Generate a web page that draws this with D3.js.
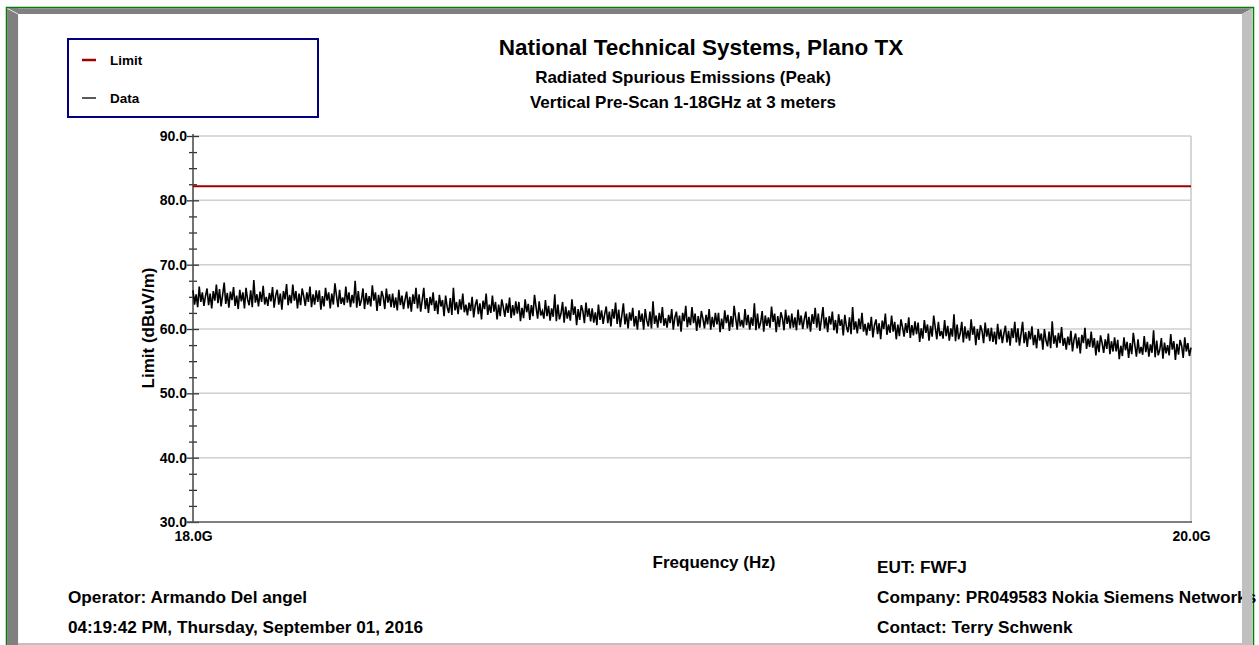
<!DOCTYPE html>
<html lang="en">
<head>
<meta charset="UTF-8">
<title>Radiated Spurious Emissions</title>
<script src="https://cdn.jsdelivr.net/npm/d3@7"></script>
<style>
    body { margin: 0; background: #fff; }
    svg { display: block; }
    svg text { font-family: "Liberation Sans", Arial, sans-serif; font-weight: bold; fill: #000; }
</style>
</head>
<body>
<div id="chart"></div>
<script>
    // ---- data ----
    const freqStart = 18.0;   // GHz
    const freqStop = 20.0;
    const limitFreq = [18.0, 20.0];
    const limitLevel = [82.2, 82.2];

    const yMajor = [30, 40, 50, 60, 70, 80, 90];
    const yMinor = [32.5, 35, 37.5, 42.5, 45, 47.5, 52.5, 55, 57.5, 62.5, 65, 67.5, 72.5, 75, 77.5, 82.5, 85, 87.5];
    const xTicks = [18.0, 20.0];

    const titleLines = ["National Technical Systems, Plano TX", "Radiated Spurious Emissions (Peak)", "Vertical Pre-Scan 1-18GHz at 3 meters"];
    const legendItems = ["Limit", "Data"];
    const footerLeft = ["Operator: Armando Del angel", "04:19:42 PM, Thursday, September 01, 2016"];
    const footerRight = ["EUT: FWFJ", "Company: PR049583 Nokia Siemens Networks", "Contact: Terry Schwenk"];

    // peak trace (dBuV/m), sweep points evenly spaced from 18 to 20 GHz
    const dataTrace = [
        66.0, 63.8, 65.4, 63.4, 66.6, 64.2, 65.7, 63.6, 65.1, 66.3, 63.7, 65.5, 63.2, 65.9, 64.4, 66.9,
        64.0, 66.2, 63.5, 65.3, 67.2, 63.9, 65.6, 63.3, 65.8, 64.5, 66.5, 63.6, 65.2, 63.1, 66.1, 64.3,
        65.7, 63.2, 66.4, 64.6, 63.7, 66.0, 63.4, 67.6, 64.1, 65.4, 63.5, 65.8, 64.2, 66.7, 63.8, 65.0,
        63.6, 65.6, 64.3, 66.5, 63.3, 65.2, 66.1, 63.8, 65.5, 63.0, 65.9, 64.6, 67.0, 63.7, 65.3, 64.0,
        66.9, 64.4, 65.9, 63.2, 65.5, 63.7, 66.3, 65.1, 63.6, 65.7, 64.2, 66.6, 63.4, 65.4, 63.8, 66.0,
        64.2, 66.0, 63.0, 65.1, 63.5, 66.4, 64.4, 65.7, 63.2, 65.5, 63.8, 67.1, 65.2, 63.4, 66.1, 63.9,
        64.9, 63.7, 66.6, 64.1, 65.7, 63.4, 65.3, 64.0, 67.5, 63.3, 65.9, 63.6, 64.5, 66.3, 63.1, 65.6,
        63.8, 65.1, 63.5, 66.8, 64.4, 65.7, 62.8, 65.3, 63.6, 65.9, 65.0, 63.1, 66.3, 64.1, 65.4, 63.4,
        65.5, 63.3, 64.9, 62.9, 66.1, 63.7, 65.2, 63.1, 64.6, 65.8, 63.2, 65.0, 62.7, 65.4, 63.9, 66.4,
        63.2, 65.4, 62.7, 64.5, 66.4, 63.1, 64.8, 62.5, 65.0, 63.7, 65.7, 62.8, 64.4, 62.3, 65.3, 63.5,
        64.5, 62.0, 65.2, 63.4, 62.5, 64.8, 62.2, 66.4, 62.9, 64.2, 62.3, 64.6, 63.0, 65.5, 62.6, 63.8,
        62.1, 64.1, 62.8, 65.0, 61.8, 63.7, 64.6, 62.3, 64.0, 61.5, 64.4, 63.1, 65.5, 62.2, 63.8, 62.5,
        65.2, 62.7, 64.2, 61.5, 63.8, 62.0, 64.6, 63.4, 61.9, 64.0, 62.5, 64.9, 61.7, 63.7, 62.1, 64.3,
        62.4, 64.2, 61.2, 63.3, 61.7, 64.6, 62.6, 63.9, 61.4, 63.7, 62.0, 65.3, 63.4, 61.6, 64.3, 62.1,
        62.8, 61.6, 64.5, 62.0, 63.6, 61.3, 63.2, 61.9, 65.4, 61.2, 63.8, 61.5, 62.4, 64.2, 61.0, 63.5,
        61.6, 62.9, 61.3, 64.6, 62.2, 63.5, 60.6, 63.1, 61.4, 63.7, 62.8, 60.9, 64.1, 61.9, 63.2, 61.2,
        63.2, 61.0, 62.6, 60.6, 63.8, 61.4, 62.9, 60.8, 62.3, 63.5, 60.9, 62.7, 60.4, 63.1, 61.6, 64.1,
        60.8, 63.0, 60.3, 62.1, 64.0, 60.7, 62.4, 60.1, 62.6, 61.3, 63.3, 60.4, 62.0, 59.9, 62.9, 61.1,
        62.4, 59.9, 63.1, 61.3, 60.4, 62.7, 60.1, 64.3, 60.8, 62.1, 60.2, 62.5, 60.9, 63.4, 60.5, 61.7,
        60.2, 62.2, 60.9, 63.1, 59.9, 61.8, 62.7, 60.4, 62.1, 59.6, 62.5, 61.2, 63.6, 60.3, 61.9, 60.6,
        63.4, 60.9, 62.4, 59.7, 62.0, 60.2, 62.8, 61.6, 60.1, 62.2, 60.7, 63.1, 59.9, 61.9, 60.3, 62.5,
        60.7, 62.5, 59.5, 61.6, 60.0, 62.9, 60.9, 62.2, 59.7, 62.0, 60.3, 63.6, 61.7, 59.9, 62.6, 60.4,
        61.4, 60.2, 63.1, 60.6, 62.2, 59.9, 61.8, 60.5, 64.0, 59.8, 62.4, 60.1, 61.0, 62.8, 59.6, 62.1,
        60.5, 61.8, 60.2, 63.5, 61.1, 62.4, 59.5, 62.0, 60.3, 62.6, 61.7, 59.8, 63.0, 60.8, 62.1, 60.1,
        62.4, 60.2, 61.8, 59.8, 63.0, 60.6, 62.1, 60.0, 61.5, 62.7, 60.1, 61.9, 59.6, 62.3, 60.8, 63.3,
        60.2, 62.4, 59.7, 61.5, 63.4, 60.1, 61.8, 59.5, 62.0, 60.7, 62.7, 59.8, 61.4, 59.3, 62.3, 60.5,
        61.5, 59.0, 62.2, 60.4, 59.5, 61.8, 59.2, 63.4, 59.9, 61.2, 59.3, 61.6, 60.0, 62.5, 59.6, 60.8,
        59.0, 61.0, 59.7, 61.9, 58.7, 60.6, 61.5, 59.2, 60.9, 58.4, 61.3, 60.0, 62.4, 59.1, 60.7, 59.4,
        62.1, 59.6, 61.1, 58.4, 60.7, 58.9, 61.5, 60.3, 58.8, 60.9, 59.4, 61.8, 58.6, 60.6, 59.0, 61.2,
        59.2, 61.0, 58.0, 60.1, 58.5, 61.4, 59.4, 60.7, 58.2, 60.5, 58.8, 62.1, 60.2, 58.4, 61.1, 58.9,
        59.7, 58.5, 61.4, 58.9, 60.5, 58.2, 60.1, 58.8, 62.3, 58.1, 60.7, 58.4, 59.3, 61.1, 57.9, 60.4,
        58.5, 59.8, 58.2, 61.5, 59.1, 60.4, 57.5, 60.0, 58.3, 60.6, 59.7, 57.8, 61.0, 58.8, 60.1, 58.1,
        60.2, 58.0, 59.6, 57.6, 60.8, 58.4, 59.9, 57.8, 59.3, 60.5, 57.9, 59.7, 57.4, 60.1, 58.6, 61.1,
        57.9, 60.1, 57.4, 59.2, 61.1, 57.8, 59.5, 57.2, 59.7, 58.4, 60.4, 57.5, 59.1, 57.0, 60.0, 58.2,
        59.3, 56.8, 60.0, 58.2, 57.3, 59.6, 57.0, 61.2, 57.7, 59.0, 57.1, 59.4, 57.8, 60.3, 57.4, 58.6,
        56.8, 58.8, 57.5, 59.7, 56.5, 58.4, 59.3, 57.0, 58.7, 56.2, 59.1, 57.8, 60.2, 56.9, 58.5, 57.2,
        59.6, 57.1, 58.6, 55.9, 58.2, 56.4, 59.0, 57.8, 56.3, 58.4, 56.9, 59.3, 56.1, 58.1, 56.5, 58.7,
        56.5, 58.3, 55.3, 57.4, 55.8, 58.7, 56.7, 58.0, 55.5, 57.8, 56.1, 59.4, 57.5, 55.7, 58.4, 56.2,
        57.2, 56.0, 58.9, 56.4, 58.0, 55.7, 57.6, 56.3, 59.8, 55.6, 58.2, 55.9, 56.8, 58.6, 55.4, 57.9,
        56.2, 57.5, 55.9, 59.2, 56.8, 58.1, 55.2, 57.7, 56.0, 58.3, 57.4, 55.5, 58.7, 56.5, 57.8, 55.8, 57.1
    ];

    const W = 1259, H = 645;
    const plot = { left: 193, right: 1191, top: 136, bottom: 522 };

    const svg = d3.select("#chart").append("svg")
        .attr("width", W)
        .attr("height", H);

    // ---- window frame (green edge + bevel) ----
    svg.append("rect")
        .attr("x", 6.5).attr("y", 7.5)
        .attr("width", 1247).attr("height", 700)
        .attr("fill", "#fff")
        .attr("stroke", "#008000").attr("stroke-width", 1.5);
    // dark left / top bevel
    svg.append("line")
        .attr("x1", 12.6).attr("x2", 12.6)
        .attr("y1", 8).attr("y2", 660)
        .attr("stroke", "#808080").attr("stroke-width", 11);
    svg.append("polygon")
        .attr("points", "7,8.3 1252.5,8.3 1242,14 18,14")
        .attr("fill", "#808080");
    // light right / bottom bevel
    svg.append("line")
        .attr("x1", 1247.2).attr("x2", 1247.2)
        .attr("y1", 14).attr("y2", 660)
        .attr("stroke", "#c0c0c0").attr("stroke-width", 10.5);
    svg.append("polygon")
        .attr("points", "1252.5,8.3 1252.5,14 1242,14")
        .attr("fill", "#c0c0c0");
    svg.append("rect")
        .attr("x", 18).attr("y", 643)
        .attr("width", 1224).attr("height", 20)
        .attr("fill", "#c0c0c0");
    svg.append("line")
        .attr("x1", 7.5).attr("y1", 8.5).attr("x2", 18).attr("y2", 14)
        .attr("stroke", "#e8e8e8").attr("stroke-width", 1);

    // ---- scales ----
    const x = d3.scaleLinear().domain([freqStart, freqStop]).range([plot.left, plot.right]);
    const y = d3.scaleLinear().domain([30, 90]).range([plot.bottom, plot.top]);
    const sweepFreq = i => freqStart + i * (freqStop - freqStart) / (dataTrace.length - 1);

    // grid
    svg.append("g").selectAll("line")
        .data(yMajor.filter(v => v > 30))
        .join("line")
        .attr("x1", plot.left).attr("x2", plot.right)
        .attr("y1", d => y(d)).attr("y2", d => y(d))
        .attr("stroke", "#cfcfcf").attr("stroke-width", 1.5);
    svg.append("line")
        .attr("x1", plot.right).attr("x2", plot.right)
        .attr("y1", plot.top).attr("y2", plot.bottom)
        .attr("stroke", "#c8c8c8").attr("stroke-width", 1.5);

    // y axis: major ticks with labels, minor ticks without
    const yAxis = svg.append("g")
        .attr("transform", `translate(${plot.left + 6},0)`)
        .call(d3.axisLeft(y).tickValues(yMajor).tickFormat(d => d.toFixed(1)).tickSize(12).tickPadding(0));
    yAxis.select(".domain").remove();
    yAxis.selectAll("line").attr("stroke", "#333").attr("stroke-width", 1.3);
    yAxis.selectAll("text").style("font-size", "14px");

    const yMinorAxis = svg.append("g")
        .attr("transform", `translate(${plot.left + 4},0)`)
        .call(d3.axisLeft(y).tickValues(yMinor).tickFormat("").tickSize(8));
    yMinorAxis.select(".domain").remove();
    yMinorAxis.selectAll("line").attr("stroke", "#333").attr("stroke-width", 1.3);

    // x axis: end labels only
    const xAxis = svg.append("g")
        .attr("transform", `translate(0,${plot.bottom})`)
        .call(d3.axisBottom(x).tickValues(xTicks).tickFormat(d => d.toFixed(1) + "G").tickSize(0).tickPadding(9));
    xAxis.select(".domain").remove();
    xAxis.selectAll("text").style("font-size", "14px");

    svg.append("line")
        .attr("x1", plot.left).attr("x2", plot.left)
        .attr("y1", plot.top - 2).attr("y2", plot.bottom)
        .attr("stroke", "#444").attr("stroke-width", 1.5);
    svg.append("line")
        .attr("x1", plot.left - 6).attr("x2", plot.right + 1)
        .attr("y1", plot.bottom).attr("y2", plot.bottom)
        .attr("stroke", "#555").attr("stroke-width", 1.5);

    // ---- traces ----
    svg.append("path")
        .datum(dataTrace)
        .attr("fill", "none")
        .attr("stroke", "#000")
        .attr("stroke-width", 1.6)
        .attr("d", d3.line().x((d, i) => x(sweepFreq(i))).y(d => y(d)));

    svg.append("path")
        .datum(limitLevel)
        .attr("fill", "none")
        .attr("stroke", "#a00000")
        .attr("stroke-width", 2)
        .attr("d", d3.line().x((d, i) => x(limitFreq[i])).y(d => y(d)));

    // ---- titles ----
    const titleSizes = [22.5, 17, 17];
    const titleX = [701, 683, 683];
    const titleY = [55, 83, 108];
    svg.append("g").selectAll("text")
        .data(titleLines)
        .join("text")
        .attr("x", (d, i) => titleX[i])
        .attr("y", (d, i) => titleY[i])
        .attr("text-anchor", "middle")
        .style("font-size", (d, i) => titleSizes[i] + "px")
        .text(d => d);

    svg.append("text")
        .attr("x", 714).attr("y", 568)
        .attr("text-anchor", "middle")
        .style("font-size", "17px")
        .text("Frequency (Hz)");

    svg.append("text")
        .attr("transform", `translate(154,${(plot.top + plot.bottom) / 2 - 1}) rotate(-90)`)
        .attr("text-anchor", "middle")
        .style("font-size", "17px")
        .text("Limit (dBuV/m)");

    // ---- legend ----
    const legend = svg.append("g");
    legend.append("rect")
        .attr("x", 68).attr("y", 39)
        .attr("width", 250).attr("height", 78)
        .attr("fill", "#fff")
        .attr("stroke", "#000080").attr("stroke-width", 2);
    const legendColor = ["#a00000", "#000"];
    const legendWidth = [2.5, 1.3];
    const legendY = [60, 98];
    legendItems.forEach((name, i) => {
        legend.append("line")
            .attr("x1", 82).attr("x2", 96)
            .attr("y1", legendY[i]).attr("y2", legendY[i])
            .attr("stroke", legendColor[i]).attr("stroke-width", legendWidth[i]);
        legend.append("text")
            .attr("x", 110).attr("y", legendY[i] + 5)
            .style("font-size", "13.5px")
            .text(name);
    });

    // ---- footer ----
    svg.append("g").selectAll("text")
        .data(footerLeft)
        .join("text")
        .attr("x", 68)
        .attr("y", (d, i) => 603 + i * 30)
        .style("font-size", "17.2px")
        .text(d => d);

    svg.append("g").selectAll("text")
        .data(footerRight)
        .join("text")
        .attr("x", 877)
        .attr("y", (d, i) => 573 + i * 30)
        .style("font-size", "17.2px")
        .text(d => d);

    // right bevel drawn again so the long company line is clipped like the reference
    svg.append("rect")
        .attr("x", 1242).attr("y", 20)
        .attr("width", 10.5).attr("height", 640)
        .attr("fill", "#c0c0c0");
</script>
</body>
</html>
